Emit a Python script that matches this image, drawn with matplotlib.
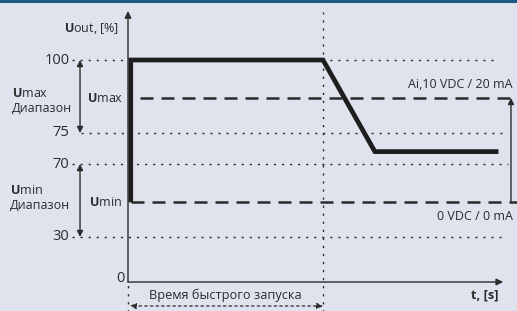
import numpy as np
import matplotlib.pyplot as plt
from matplotlib.scale import FuncScale

plt.rcParams['font.family'] = ['Open Sans', 'DejaVu Sans']
plt.rcParams['mathtext.fontset'] = 'custom'
plt.rcParams['mathtext.rm'] = 'Open Sans'
plt.rcParams['mathtext.bf'] = 'Open Sans:bold'

# schematic y axis: tick values and their drawn height (px above the t axis)
y_ticks = [0, 30, 70, 75, 100]
y_levels = [-20, 0, 30, 70, 75, 100, 125]
y_pos = [-30, 0, 45, 118, 149, 222, 295]

# output curve (time in s, output in %)
curve_t = [0.07, 0.07, 5.0, 6.33, 9.5]
u_min, u_max, u_final = 49, 87, 72
curve_u = [u_min, 100, 100, u_final, u_final]
t_fast = 5.0

BG = "#dfe3ee"
INK = "#2b2b2b"


def fwd(v):
    return np.interp(v, y_levels, y_pos)


def inv(p):
    return np.interp(p, y_pos, y_levels)


fig = plt.figure(figsize=(5.17, 3.11), dpi=100, facecolor=BG)
ax = fig.add_axes([0, 0, 1, 1])
ax.set_facecolor(BG)
ax.set_yscale(FuncScale(ax, (fwd, inv)))
ax.set_xlim(-128 / 39, 389 / 39)
ax.set_ylim(inv(-29), inv(282))
ax.axis("off")

# top border
ax.plot([0, 1], [0.996, 0.996], transform=ax.transAxes, color="#1d5884", lw=2.2)

dot = dict(color=INK, lw=1.0, linestyle=(0, (1.6, 4.2)))

# dotted level lines
ax.plot([-1.44, 9.5], [100, 100], **dot)
ax.plot([-1.2, 9.74], [75, 75], **dot)
ax.plot([-1.44, 9.74], [70, 70], **dot)
ax.plot([-1.44, 9.66], [30, 30], **dot)

# dotted verticals
ax.plot([t_fast, t_fast], [-20, inv(270)], **dot)
ax.plot([0, 0], [-20, 0], **dot)

# dashed limit lines
ax.plot([0.3, 10], [u_max, u_max], color=INK, lw=1.8, dashes=(5.2, 3.2))
ax.plot([0.07, 10], [u_min, u_min], color=INK, lw=1.8, dashes=(5.2, 3.2))

# axes with arrows
ax.annotate("", xy=(0, inv(271)), xytext=(0, 0),
            arrowprops=dict(arrowstyle="-|>", color=INK, lw=1.0,
                            mutation_scale=10, shrinkA=0, shrinkB=0))
ax.annotate("", xy=(9.62, 0), xytext=(0, 0),
            arrowprops=dict(arrowstyle="-|>", color=INK, lw=1.0,
                            mutation_scale=10, shrinkA=0, shrinkB=0))

# output curve
ax.plot(curve_t, curve_u, color="#1e1e1e", lw=3.4, solid_joinstyle="miter",
        solid_capstyle="butt")

# range arrows on the left
for lo, hi in [(75, 100), (30, 70)]:
    ax.annotate("", xy=(-1.23, lo), xytext=(-1.23, hi),
                arrowprops=dict(arrowstyle="<|-|>", color=INK, lw=1.0,
                                mutation_scale=9, shrinkA=0, shrinkB=0))

# analog input span arrow on the right
ax.annotate("", xy=(9.82, u_max), xytext=(9.82, inv(80)),
            arrowprops=dict(arrowstyle="-|>", color=INK, lw=1.0,
                            mutation_scale=9, shrinkA=0, shrinkB=0))

# fast start time arrow
ax.annotate("", xy=(0.05, inv(-24)), xytext=(t_fast, inv(-24)),
            arrowprops=dict(arrowstyle="<|-|>", color=INK, lw=0.9,
                            linestyle=(0, (2, 2.5)), mutation_scale=9,
                            shrinkA=0, shrinkB=0))

# tick labels
for v in y_ticks[1:]:
    ax.text(-1.5, v, str(v), ha="right", va="center", fontsize=10.5, color=INK)
ax.text(-0.08, inv(4), "0", ha="right", va="center", fontsize=10.5, color=INK)

txt = dict(fontsize=9, color=INK)
ax.text(-1.65, inv(254), r"$\mathbf{U}$out, [%]", va="center", ha="left", **txt)
ax.text(-2.98, inv(181), "$\\mathbf{U}$max\nДиапазон", va="center", ha="left",
        linespacing=1.25, **txt)
ax.text(-1.05, inv(183), "$\\mathbf{U}$max", va="center", ha="left", **txt)
ax.text(-3.03, inv(84), "$\\mathbf{U}$min\nДиапазон", va="center", ha="left",
        linespacing=1.25, **txt)
ax.text(-1.0, u_min, "$\\mathbf{U}$min", va="center", ha="left", **txt)
ax.text(9.85, inv(197), "Ai,10 VDC / 20 mA", va="center", ha="right", **txt)
ax.text(9.88, inv(66), "0 VDC / 0 mA", va="center", ha="right", **txt)
ax.text(2.5, inv(-13), "Время быстрого запуска", va="center", ha="center",
        fontsize=9.2, color=INK)
ax.text(9.5, inv(-13), "t, [s]", va="center", ha="right", fontsize=9.2,
        fontweight="bold", color=INK)

fig.savefig("out.png", dpi=100, facecolor=BG)
